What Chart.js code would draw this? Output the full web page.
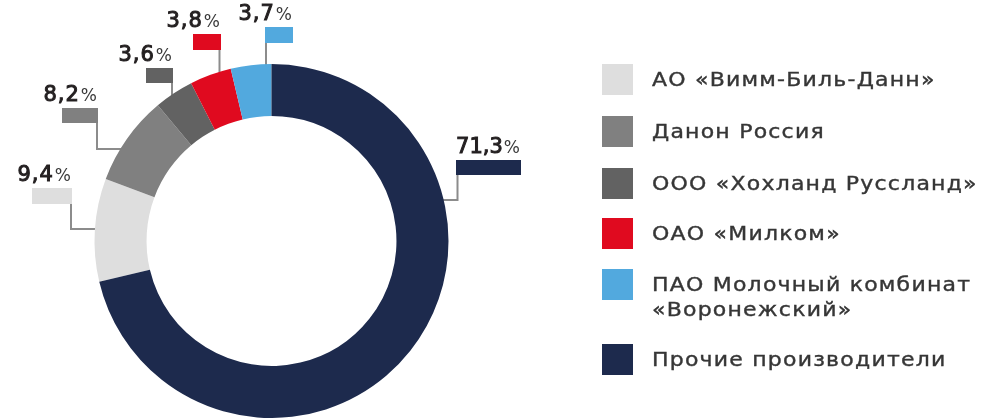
<!DOCTYPE html>
<html>
<head>
<meta charset="utf-8">
<script src="https://cdn.jsdelivr.net/npm/chart.js@4"></script>
<style>
  html, body { margin: 0; padding: 0; background: #fff; }
  #wrap { position: relative; width: 1008px; height: 418px; overflow: hidden; }
  #my_Chart { position: absolute; left: 0; top: 0; }
  #legend { position: absolute; left: 602px; top: 0; font-family: "DejaVu Sans", sans-serif; font-size: 20px; letter-spacing: 1.1px; color: #363636; -webkit-text-stroke: 0.4px #363636; }
  .item { position: absolute; left: 0; white-space: nowrap; }
  .box { position: absolute; left: 0; width: 31px; height: 31px; }
  .txt { position: absolute; left: 50px; line-height: 25px; transform: scaleX(1.1); transform-origin: 0 0; }
</style>
</head>
<body>
<div id="wrap">
  <canvas id="my_Chart" width="1008" height="418"></canvas>
  <div id="legend"></div>
</div>
<script>
// data
var Labels = ['АО «Вимм-Биль-Данн»', 'Данон Россия', 'ООО «Хохланд Руссланд»', 'ОАО «Милком»', 'ПАО Молочный комбинат\n«Воронежский»', 'Прочие производители'];
var Values = [9.4, 8.2, 3.6, 3.8, 3.7, 71.3];
var Colors = ['#dedede', '#808080', '#626262', '#e00a1f', '#52a9de', '#1d2a4d'];

// label tabs: rect x,y,w,h ; leader: 'v' straight down, 'l'/'r' down then across to the ring
var Tabs = [
	{ x: 32, y: 188, w: 40, h: 16, lx: 71, ly: 229, side: 'l' },
	{ x: 62, y: 108, w: 36, h: 15, lx: 97, ly: 149, side: 'l' },
	{ x: 146, y: 68, w: 27, h: 15, lx: 172, side: 'v' },
	{ x: 193, y: 34, w: 28, h: 16, lx: 219.5, side: 'v' },
	{ x: 265, y: 27, w: 28, h: 16, lx: 266, side: 'v' },
	{ x: 456, y: 160, w: 65, h: 15, lx: 457.5, ly: 200, side: 'r' }
];
var legendTop = [64, 116, 168, 218, 269, 344];

function fmt(v){
	return v.toFixed(1).replace('.', ',');
}

// leader lines go under the ring, tabs and numbers on top
var calloutPlugin = {
	id: 'callouts',
	beforeDatasetsDraw: function(chart){
		var c = chart.ctx;
		var arc = chart.getDatasetMeta(0).data[0];
		var cx = arc.x, cy = arc.y, R = arc.outerRadius;
		c.save();
		c.strokeStyle = '#8c8c8c';
		c.lineWidth = 2;
		Tabs.forEach(function(t){
			c.beginPath();
			c.moveTo(t.lx, t.y + t.h);
			if(t.side === 'v'){
				var dy = Math.sqrt(R*R - (t.lx-cx)*(t.lx-cx));
				c.lineTo(t.lx, cy - dy + 4);
			} else {
				var dx = Math.sqrt(R*R - (t.ly-cy)*(t.ly-cy));
				c.lineTo(t.lx, t.ly);
				c.lineTo(t.side === 'l' ? cx - dx + 4 : cx + dx - 4, t.ly);
			}
			c.stroke();
		});
		c.restore();
	},
	afterDatasetsDraw: function(chart){
		var c = chart.ctx;
		c.save();
		Tabs.forEach(function(t, i){
			c.fillStyle = Colors[i];
			c.fillRect(t.x, t.y, t.w, t.h);
			var right = t.x + t.w - 1;
			var base = t.y - 7;
			c.textBaseline = 'alphabetic';
			c.textAlign = 'right';
			c.font = '400 17px "DejaVu Sans"';
			c.letterSpacing = '0px';
			c.fillStyle = '#3a3a3a';
			c.fillText('%', right, base);
			var pw = c.measureText('%').width;
			c.font = '400 21px "DejaVu Sans"';
			c.letterSpacing = i === 5 ? '0px' : '1px';
			c.fillStyle = '#231f20';
			c.strokeStyle = '#231f20';
			c.lineWidth = 1;
			c.fillText(fmt(Values[i]), right - pw - 1, base);
			c.strokeText(fmt(Values[i]), right - pw - 1, base);
		});
		c.restore();
	}
};

var ctx = document.getElementById('my_Chart').getContext('2d');
var myChart = new Chart(ctx, {
	type: 'doughnut',
	data: {
		labels: Labels,
		datasets: [{
			data: Values,
			backgroundColor: Colors,
			borderWidth: 0
		}]
	},
	options: {
		responsive: false,
		animation: false,
		cutout: '70.6%',
		rotation: -(100 - Values[5]) * 3.6,
		layout: { padding: { left: 94.5, top: 64, right: 559.5, bottom: 0 } },
		plugins: {
			legend: { display: false },
			tooltip: { enabled: false }
		}
	},
	plugins: [calloutPlugin]
});

// legend
var lg = document.getElementById('legend');
Labels.forEach(function(l, i){
	var it = document.createElement('div');
	it.className = 'item';
	it.style.top = legendTop[i] + 'px';
	it.innerHTML = '<div class="box" style="background:' + Colors[i] + '"></div>' +
		'<div class="txt" style="top:3px">' + l.replace('\n', '<br>') + '</div>';
	lg.appendChild(it);
});
</script>
</body>
</html>
